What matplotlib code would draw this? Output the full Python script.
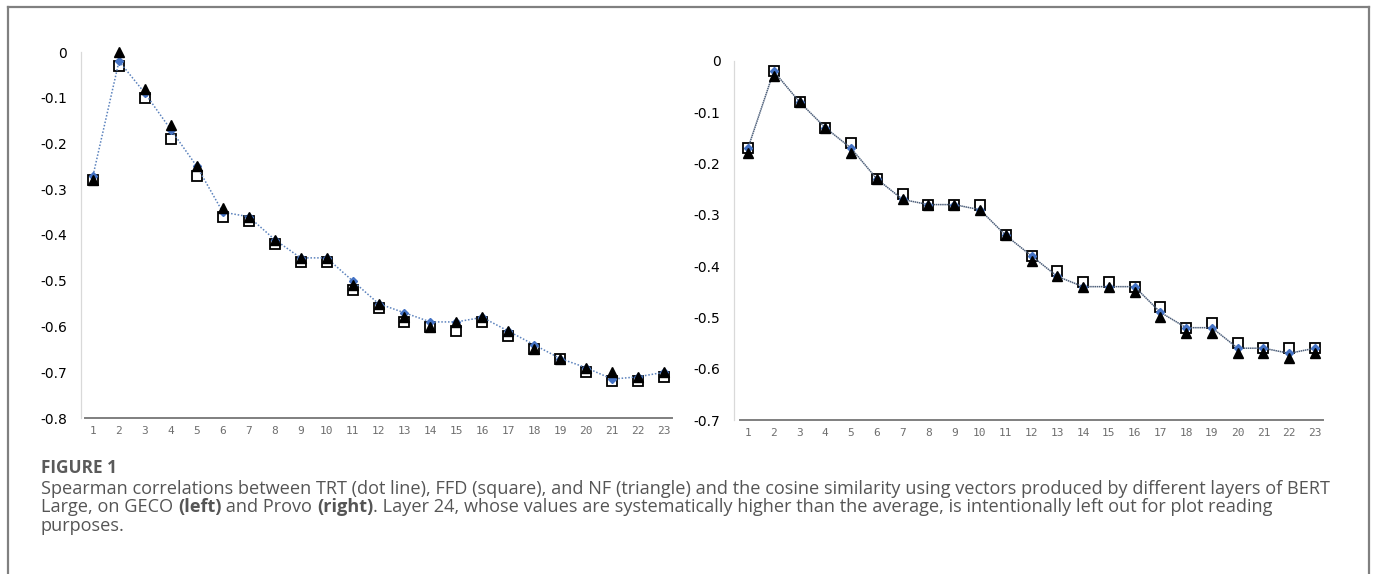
import matplotlib
matplotlib.use("Agg")
import matplotlib.pyplot as plt
from matplotlib.lines import Line2D

# layers 1..23 (layer 24 left out)
layers = list(range(1, 24))

# GECO (left)
geco_trt = [-0.27, -0.02, -0.09, -0.17, -0.25, -0.35, -0.36, -0.41, -0.45, -0.45, -0.50, -0.55,
            -0.57, -0.59, -0.59, -0.58, -0.61, -0.64, -0.67, -0.69, -0.715, -0.71, -0.70]
geco_ffd = [-0.28, -0.03, -0.10, -0.19, -0.27, -0.36, -0.37, -0.42, -0.46, -0.46, -0.52, -0.56,
            -0.59, -0.60, -0.61, -0.59, -0.62, -0.65, -0.67, -0.70, -0.72, -0.72, -0.71]
geco_nf = [-0.28, 0.00, -0.08, -0.16, -0.25, -0.34, -0.36, -0.41, -0.45, -0.45, -0.51, -0.55,
           -0.58, -0.60, -0.59, -0.58, -0.61, -0.65, -0.67, -0.69, -0.70, -0.71, -0.70]

# Provo (right)
provo_trt = [-0.17, -0.02, -0.08, -0.13, -0.17, -0.23, -0.27, -0.28, -0.28, -0.29, -0.34, -0.38,
             -0.42, -0.44, -0.44, -0.44, -0.49, -0.52, -0.52, -0.56, -0.56, -0.57, -0.56]
provo_ffd = [-0.17, -0.02, -0.08, -0.13, -0.16, -0.23, -0.26, -0.28, -0.28, -0.28, -0.34, -0.38,
             -0.41, -0.43, -0.43, -0.44, -0.48, -0.52, -0.51, -0.55, -0.56, -0.56, -0.56]
provo_nf = [-0.18, -0.03, -0.08, -0.13, -0.18, -0.23, -0.27, -0.28, -0.28, -0.29, -0.34, -0.39,
            -0.42, -0.44, -0.44, -0.45, -0.50, -0.53, -0.53, -0.57, -0.57, -0.58, -0.57]

geco_yticks = [0, -0.1, -0.2, -0.3, -0.4, -0.5, -0.6, -0.7, -0.8]
provo_yticks = [0, -0.1, -0.2, -0.3, -0.4, -0.5, -0.6, -0.7]

caption_title = "FIGURE 1"
caption_lines = [
    [("Spearman correlations between TRT (dot line), FFD (square), and NF (triangle) and the cosine "
      "similarity using vectors produced by different layers of BERT", "normal")],
    [("Large, on GECO ", "normal"), ("(left)", "bold"), (" and Provo ", "normal"), ("(right)", "bold"),
     (". Layer 24, whose values are systematically higher than the average, is intentionally left out for plot reading", "normal")],
    [("purposes.", "normal")],
]

W, H = 1375, 574
fig = plt.figure(figsize=(W / 100, H / 100), dpi=100)


def px_axes(x0, x1, ytop, ybot):
    return fig.add_axes([x0 / W, 1 - ybot / H, (x1 - x0) / W, (ybot - ytop) / H])


def style(ax, yticks, ymin, outward):
    ax.set_xlim(0.69, 23.31)
    ax.set_ylim(ymin, 0)
    ax.set_yticks(yticks)
    ax.set_yticklabels(["0" if v == 0 else f"{v:.1f}" for v in yticks],
                       fontsize=7, color="#7a7a7a", family="Liberation Sans")
    ax.set_xticks(layers)
    ax.set_xticklabels([str(l) for l in layers], fontsize=8, color="#6e6e6e",
                       family="DejaVu Sans Mono")
    ax.tick_params(axis="y", length=0, pad=10)
    ax.tick_params(axis="x", length=0, pad=6)
    for s in ["top", "right"]:
        ax.spines[s].set_visible(False)
    ax.spines["left"].set_color("#d9d9d9")
    ax.spines["left"].set_linewidth(0.9)
    ax.spines["left"].set_position(("outward", outward))
    ax.spines["bottom"].set_color("#7f7f7f")
    ax.spines["bottom"].set_linewidth(1.4)


def draw(ax, trt, ffd, nf, line_color, ls):
    ax.plot(layers, ffd, linestyle="none", marker="s", markersize=6.5,
            markerfacecolor="white", markeredgecolor="black", markeredgewidth=1.3,
            zorder=3, clip_on=False)
    ax.plot(layers, trt, linestyle=ls, color=line_color, linewidth=1.1, marker="D",
            markersize=4.5, markerfacecolor="#4472c4", markeredgecolor="#4472c4",
            zorder=4, clip_on=False)
    ax.plot(layers, nf, linestyle="none", marker="^", markersize=7.5,
            markerfacecolor="black", markeredgecolor="black", zorder=5, clip_on=False)


ax1 = px_axes(85, 672, 52, 418)
style(ax1, geco_yticks, -0.8, 3)
draw(ax1, geco_trt, geco_ffd, geco_nf, "#5b82bd", (0, (1, 1.2)))

ax2 = px_axes(740, 1323, 61, 420)
style(ax2, provo_yticks, -0.7, 4)
draw(ax2, provo_trt, provo_ffd, provo_nf, "#4d5f7a", (0, (1, 0.4)))

# page frame
fc = "#808080"
for xs, ys in [([8 / W, 8 / W], [0, 1 - 7 / H]),
               ([8 / W, 1369 / W], [1 - 7 / H, 1 - 7 / H]),
               ([1369 / W, 1369 / W], [0, 1 - 7 / H])]:
    fig.add_artist(Line2D(xs, ys, transform=fig.transFigure, color=fc, linewidth=1.6))

# caption
cap_font = "Open Sans"
cap_color = "#555555"
r = fig.canvas.get_renderer()
probe = fig.text(0, 0, caption_lines[0][0][0], fontsize=10, family=cap_font)
w10 = probe.get_window_extent(renderer=r).width
probe.remove()
cap_size = 10 * (1333 - 41) / w10

fig.text(41 / W, 1 - 468 / H, caption_title, fontsize=cap_size * 0.95, family=cap_font,
         fontweight="bold", color="#5a5a5a", va="center")

for i, parts in enumerate(caption_lines):
    y = 1 - (489 + 18.3 * i) / H
    x = 41 / W
    for s, wgt in parts:
        t = fig.text(x, y, s, fontsize=cap_size, family=cap_font, fontweight=wgt,
                     color=cap_color, va="center")
        x += t.get_window_extent(renderer=r).width / W

fig.savefig("out.png", dpi=100)
